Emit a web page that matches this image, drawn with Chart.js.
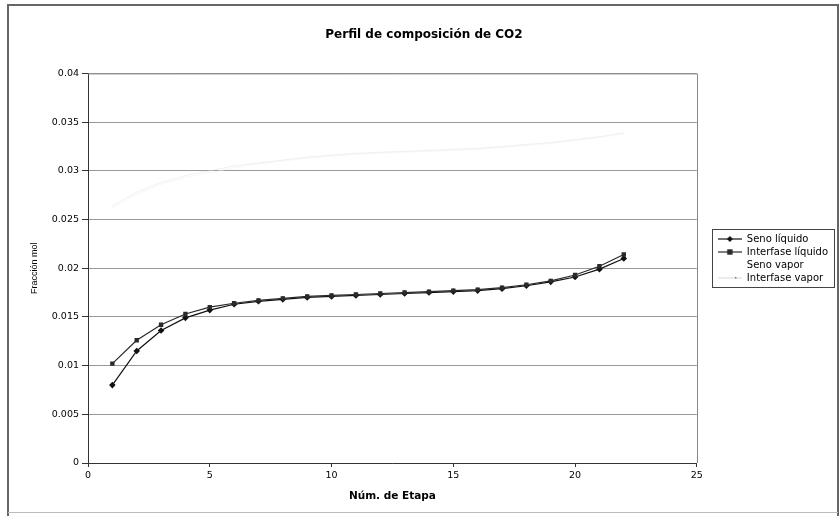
<!DOCTYPE html>
<html>
<head>
<meta charset="utf-8">
<script src="https://cdn.jsdelivr.net/npm/chart.js@4/dist/chart.umd.min.js"></script>
<style>
html,body{margin:0;padding:0;background:#fff;}
#wrap{width:840px;height:517px;position:relative;}
</style>
</head>
<body>
<div id="wrap"><canvas id="c" width="840" height="517"></canvas></div>
<script>
const stages = [1,2,3,4,5,6,7,8,9,10,11,12,13,14,15,16,17,18,19,20,21,22];
const senoLiquido = [0.0080,0.0115,0.0136,0.0149,0.0157,0.0163,0.0166,0.0168,0.0170,0.0171,0.0172,0.0173,0.0174,0.0175,0.0176,0.0177,0.0179,0.0182,0.0186,0.0191,0.0199,0.0210];
const interfaseLiquido = [0.0102,0.0126,0.0142,0.0153,0.0160,0.0164,0.0167,0.0169,0.0171,0.0172,0.0173,0.0174,0.0175,0.0176,0.0177,0.0178,0.0180,0.0183,0.0187,0.0193,0.0202,0.0214];
const senoVapor = [0.0262,0.0276,0.0286,0.0293,0.0298,0.0303,0.0307,0.0310,0.0313,0.0315,0.0317,0.0318,0.0319,0.0320,0.0321,0.0322,0.0324,0.0326,0.0328,0.0331,0.0334,0.0338];
const interfaseVapor = [0.0264,0.0278,0.0288,0.0295,0.0300,0.0305,0.0308,0.0311,0.0314,0.0316,0.0318,0.0319,0.0320,0.0321,0.0322,0.0323,0.0325,0.0327,0.0329,0.0332,0.0335,0.0339];
const seriesNames = ['Seno líquido','Interfase líquido','Seno vapor','Interfase vapor'];
const titleText = 'Perfil de composición de CO2';
const xTitle = 'Núm. de Etapa';
const yTitle = 'Fracción mol';

const FONT = "'DejaVu Sans', Arial, sans-serif";
const FONT2 = "'Liberation Sans', Arial, sans-serif";
const toXY = arr => arr.map((v,i)=>({x:stages[i], y:v}));

function legendSymbol(color, style, r){
  const cv = document.createElement('canvas');
  cv.width = 24; cv.height = 10;
  const g = cv.getContext('2d');
  g.strokeStyle = color; g.lineWidth = 1.2;
  g.beginPath(); g.moveTo(0,5); g.lineTo(24,5); g.stroke();
  g.fillStyle = color;
  if (style === 'rectRot'){
    g.beginPath(); g.moveTo(12,5-r); g.lineTo(12+r,5); g.lineTo(12,5+r); g.lineTo(12-r,5); g.closePath(); g.fill();
  } else if (style === 'rect'){
    g.fillRect(12-r,5-r,2*r,2*r);
  }
  return cv;
}

const styles = [
  {color:'#111', pt:'rectRot', r:3.3},
  {color:'#2a2a2a', pt:'rect', r:3.1},
  {color:'rgba(240,240,240,0.5)', pt:'circle', r:0},
  {color:'rgba(225,225,225,0.5)', pt:'circle', r:0}
];
const legendSyms = [
  legendSymbol('#111','rectRot',3),
  legendSymbol('#2a2a2a','rect',2.7),
  legendSymbol('rgba(255,255,255,0)','none',0),
  (function(){const c=legendSymbol('rgba(215,215,215,0.8)','none',0);const g=c.getContext('2d');g.fillStyle='#777';g.fillRect(17,4,1.5,1.5);return c;})()
];

const dataArrs = [senoLiquido, interfaseLiquido, senoVapor, interfaseVapor];
const datasets = dataArrs.map((arr,i)=>({
  label: seriesNames[i],
  data: toXY(arr),
  borderColor: styles[i].color,
  backgroundColor: styles[i].color,
  borderWidth: i<2 ? 1.2 : 1,
  pointStyle: styles[i].pt,
  pointRadius: styles[i].r,
  pointHoverRadius: styles[i].r,
  pointBorderWidth: 0,
  showLine: true,
  tension: 0,
  order: 4-i
}));

const framePlugin = {
  id:'frame',
  beforeDraw(chart){
    const ctx = chart.ctx;
    ctx.save();
    ctx.fillStyle = '#fff';
    ctx.fillRect(0,0,chart.width,chart.height);
    ctx.restore();
  },
  afterDraw(chart){
    const ctx = chart.ctx;
    const a = chart.chartArea;
    ctx.save();
    ctx.strokeStyle = '#888'; ctx.lineWidth = 1;
    ctx.beginPath();
    ctx.moveTo(a.left, a.top+0.5); ctx.lineTo(Math.round(a.right)+0.5, a.top+0.5); ctx.lineTo(Math.round(a.right)+0.5, a.bottom);
    ctx.stroke();
    const hb = chart.legend.legendHitBoxes;
    if (hb && hb.length){
      let minX=Infinity,minY=Infinity,maxX=-Infinity,maxY=-Infinity;
      hb.forEach(b=>{minX=Math.min(minX,b.left);minY=Math.min(minY,b.top);maxX=Math.max(maxX,b.left+b.width);maxY=Math.max(maxY,b.top+b.height);});
      ctx.strokeStyle = '#444'; ctx.lineWidth = 1;
      ctx.strokeRect(Math.round(minX-6)+0.5, Math.round(minY-5)+0.5, Math.round(maxX-minX+12), Math.round(maxY-minY+9));
    }
    ctx.strokeStyle = '#666'; ctx.lineWidth = 2;
    ctx.beginPath();
    ctx.moveTo(8,516); ctx.lineTo(8,5); ctx.lineTo(838,5); ctx.lineTo(838,516);
    ctx.stroke();
    ctx.strokeStyle = '#bbb'; ctx.lineWidth = 1;
    ctx.beginPath(); ctx.moveTo(8,512.5); ctx.lineTo(838,512.5); ctx.stroke();
    ctx.restore();
  }
};

new Chart(document.getElementById('c'), {
  type:'scatter',
  data:{datasets},
  plugins:[framePlugin],
  options:{
    responsive:false,
    animation:false,
    devicePixelRatio:1,
    layout:{padding:{left:10, right:2, top:14, bottom:14}},
    plugins:{
      tooltip:{enabled:false},
      title:{display:true, text:titleText, color:'#000', font:{family:FONT, size:12, weight:'bold'}, padding:{top:14, bottom:31}},
      legend:{
        position:'right',
        labels:{
          color:'#000',
          font:{family:FONT, size:10},
          usePointStyle:true,
          pointStyleWidth:24,
          boxHeight:10,
          padding:3,
          generateLabels(chart){
            return chart.data.datasets.map((d,i)=>({
              text:d.label, datasetIndex:i, pointStyle:legendSyms[i],
              fillStyle:d.borderColor, strokeStyle:d.borderColor, lineWidth:0, hidden:false, fontColor:'#000'
            }));
          }
        }
      }
    },
    scales:{
      x:{
        type:'linear', min:0, max:25,
        ticks:{stepSize:5, color:'#000', font:{family:FONT, size:9.5}, padding:3, maxRotation:0},
        grid:{display:true, drawOnChartArea:false, drawTicks:true, tickLength:4, color:'#333', tickColor:'#333'},
        border:{display:true, color:'#333', width:1},
        title:{display:true, text:xTitle, color:'#000', font:{family:FONT, size:10.5, weight:'bold'}, padding:{top:6, bottom:0}}
      },
      y:{
        type:'linear', min:0, max:0.04,
        ticks:{stepSize:0.005, color:'#000', font:{family:FONT, size:9.5}, padding:3,
          callback:v=>{const s=+v.toFixed(3); return s===0?'0':String(s);}},
        grid:{display:true, drawOnChartArea:true, drawTicks:true, tickLength:6, color:'#999', tickColor:'#333', lineWidth:1},
        border:{display:true, color:'#333', width:1},
        title:{display:true, text:yTitle, color:'#000', font:{family:FONT2, size:9}, padding:{top:19, bottom:10}},
        afterFit(s){ s.width = 78; }
      },
      gap:{
        type:'linear', position:'right', min:0, max:1, display:true,
        ticks:{display:false},
        grid:{display:false, drawTicks:false},
        border:{display:false},
        afterFit(s){ s.width = 18; }
      }
    }
  }
});
</script>
</body>
</html>
